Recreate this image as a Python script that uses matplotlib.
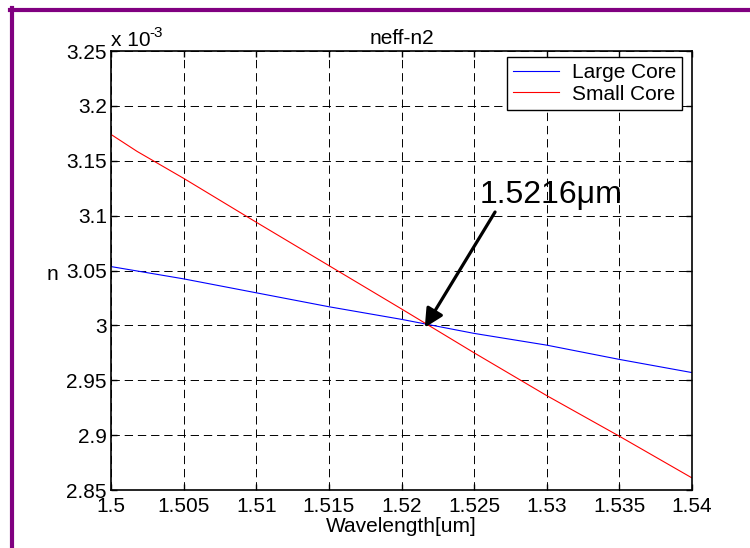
import matplotlib
matplotlib.use('Agg')
import matplotlib.pyplot as plt
from matplotlib.lines import Line2D

# values (n in units of 1e-3)
wl_large = [1.5, 1.505, 1.51, 1.515, 1.52, 1.525, 1.53, 1.535, 1.54]
n_large = [3.0536, 3.0424, 3.0297, 3.017, 3.0055, 2.9927, 2.982, 2.969, 2.957]

wl_small = [1.5, 1.5018, 1.505, 1.51, 1.515, 1.52, 1.525, 1.53, 1.535, 1.54]
n_small = [3.174, 3.1585, 3.134, 3.094, 3.0545, 3.015, 2.975, 2.936, 2.899, 2.861]

xticks = [1.5, 1.505, 1.51, 1.515, 1.52, 1.525, 1.53, 1.535, 1.54]
xticklabels = ['1.5', '1.505', '1.51', '1.515', '1.52', '1.525', '1.53', '1.535', '1.54']
yticks = [2.85, 2.9, 2.95, 3.0, 3.05, 3.1, 3.15, 3.2, 3.25]
yticklabels = ['2.85', '2.9', '2.95', '3', '3.05', '3.1', '3.15', '3.2', '3.25']

cross_wl = 1.5216
cross_n = 2.998

plt.rcParams['font.family'] = ['Liberation Sans', 'DejaVu Sans']
plt.rcParams['font.size'] = 15
plt.rcParams['lines.scale_dashes'] = False

fig = plt.figure(figsize=(7.5, 5.48), dpi=100)
ax = fig.add_axes([0.148, 0.1058, 0.7747, 0.8011])

ax.plot(wl_large, n_large, color='#0000ff', lw=0.8, label='Large Core')
ax.plot(wl_small, n_small, color='#ff0000', lw=0.8, label='Small Core')

ax.set_xlim(1.5, 1.54)
ax.set_ylim(2.85, 3.25)
ax.set_xticks(xticks)
ax.set_xticklabels(xticklabels)
ax.set_yticks(yticks)
ax.set_yticklabels(yticklabels)
ax.tick_params(direction='in', length=4, width=1, top=True, right=True,
               labelsize=15)
ax.tick_params(axis='x', pad=5)
ax.tick_params(axis='y', pad=3)
ax.grid(True, color='k', lw=0.7, linestyle=(0, (6, 3.5)))
for s in ax.spines.values():
    s.set_linewidth(1.2)

ax.set_title('neff-n2', fontsize=15, pad=5)
ax.set_xlabel('Wavelength[um]', fontsize=15, labelpad=1)
ax.set_ylabel('n', fontsize=15, rotation=0, ha='center', va='center')
ax.yaxis.set_label_coords(-0.1015, 0.49)

# matlab style exponent label
ax.text(0.0, 1.0114, 'x 10', transform=ax.transAxes, fontsize=15,
        ha='left', va='baseline')
ax.text(0.066, 1.0319, '-3', transform=ax.transAxes, fontsize=11,
        ha='left', va='baseline')

leg = ax.legend(loc='upper right', bbox_to_anchor=(0.9828, 0.9863),
                borderaxespad=0, fancybox=False, framealpha=1,
                edgecolor='k', fontsize=15, handlelength=2.2,
                handletextpad=0.6, labelspacing=0.12, borderpad=0.3)
leg.get_frame().set_linewidth(1.0)

ax.text(1.5254, 3.1115, '1.5216\u03bcm', fontsize=23, ha='left', va='baseline')
ax.annotate('', xy=(cross_wl, cross_n), xytext=(1.52644, 3.1033),
            arrowprops=dict(arrowstyle='-|>', lw=2.3, color='k',
                            mutation_scale=28, shrinkA=0, shrinkB=0))

# purple frame on top and left edges
fig.add_artist(Line2D([10, 750], [538.5, 538.5], color='#800080',
                      lw=3, transform=None))
fig.add_artist(Line2D([11.5, 11.5], [0, 540], color='#800080', lw=3,
                      transform=None))

plt.savefig('out.png', dpi=100)
